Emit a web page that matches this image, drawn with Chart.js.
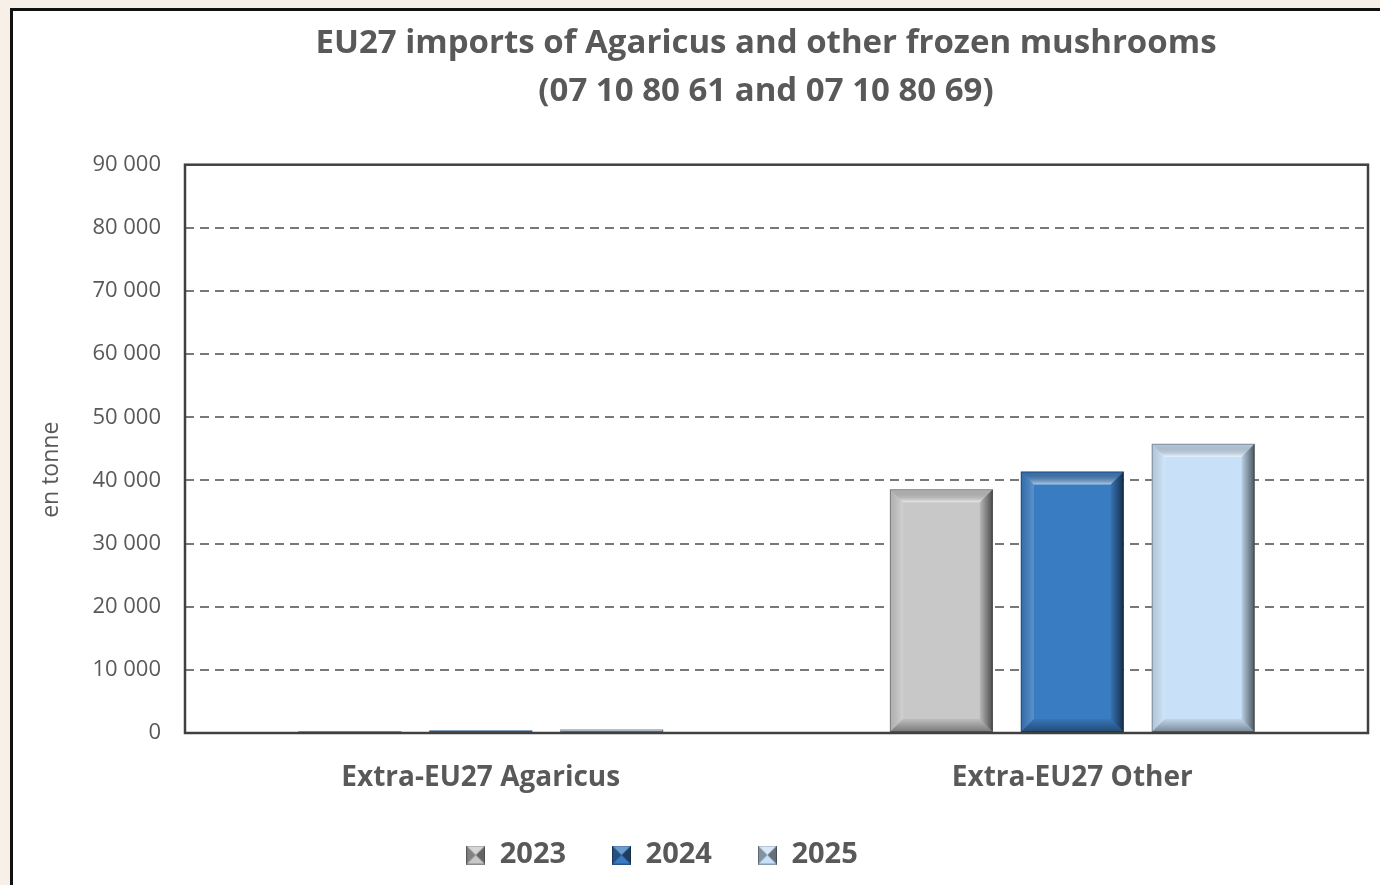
<!DOCTYPE html>
<html>
<head>
<meta charset="utf-8">
<title>EU27 imports of Agaricus and other frozen mushrooms</title>
<script src="https://cdn.jsdelivr.net/npm/chart.js@4.4.1/dist/chart.umd.min.js"></script>
<style>
  html, body { margin: 0; padding: 0; overflow: hidden; }
  body { width: 1380px; height: 885px; background: #f6f0e9; position: relative; }
  #frame { position: absolute; left: 10px; top: 8px; width: 1400px; height: 900px;
           background: #fff; border: 3px solid #111; }
  #income-chart { position: absolute; left: 0; top: 0; }
</style>
</head>
<body>
<div id="frame"></div>
<canvas id="income-chart" width="1380" height="885"></canvas>
<script>
// categories and series
const categories = ['Extra-EU27 Agaricus', 'Extra-EU27 Other'];
const years = ['2023', '2024', '2025'];
const values2023 = [280, 38600];
const values2024 = [380, 41400];
const values2025 = [560, 45800];
const yTicks = [0, 10000, 20000, 30000, 40000, 50000, 60000, 70000, 80000, 90000];

const colors = ['#c8c8c8', '#3a7cc2', '#c9e1f8'];
const grey = '#595959';
const font = '"Open Sans", "DejaVu Sans", sans-serif';

// little bevelled legend icon
function legendIcon(color) {
    const c = document.createElement('canvas');
    c.width = 19; c.height = 19;
    const g = c.getContext('2d');
    g.fillStyle = color;
    g.fillRect(0, 0, 19, 19);
    g.fillStyle = 'rgba(0,0,0,0.35)';
    g.beginPath(); g.moveTo(0, 0); g.lineTo(9.5, 9.5); g.lineTo(0, 19); g.fill();
    g.fillStyle = 'rgba(0,0,0,0.5)';
    g.beginPath(); g.moveTo(19, 0); g.lineTo(9.5, 9.5); g.lineTo(19, 19); g.fill();
    g.fillStyle = 'rgba(255,255,255,0.25)';
    g.beginPath(); g.moveTo(0, 0); g.lineTo(9.5, 9.5); g.lineTo(19, 0); g.fill();
    g.strokeStyle = 'rgba(0,0,0,0.3)';
    g.strokeRect(0.5, 0.5, 18, 18);
    return c;
}

function fmt(v) {
    return String(v).replace(/\B(?=(\d{3})+(?!\d))/g, ' ');
}

// bevel shading on top of each bar
const bevelPlugin = {
    id: 'bevel',
    afterDatasetsDraw(chart) {
        const ctx = chart.ctx;
        chart.data.datasets.forEach((ds, i) => {
            chart.getDatasetMeta(i).data.forEach(bar => {
                const {x, y, base, width} = bar.getProps(['x', 'y', 'base', 'width'], true);
                const l = x - width / 2, r = x + width / 2, h = base - y;
                if (h <= 0) return;
                const b = Math.min(13, h / 2, width / 4);
                ctx.save();
                // top
                let gr = ctx.createLinearGradient(0, y, 0, y + b);
                gr.addColorStop(0, 'rgba(0,0,0,0.08)');
                gr.addColorStop(1, 'rgba(255,255,255,0.6)');
                ctx.fillStyle = gr;
                ctx.beginPath(); ctx.moveTo(l, y); ctx.lineTo(r, y); ctx.lineTo(r - b, y + b); ctx.lineTo(l + b, y + b); ctx.closePath(); ctx.fill();
                // left
                gr = ctx.createLinearGradient(l, 0, l + b, 0);
                gr.addColorStop(0, 'rgba(0,0,0,0.12)');
                gr.addColorStop(1, 'rgba(255,255,255,0.18)');
                ctx.fillStyle = gr;
                ctx.beginPath(); ctx.moveTo(l, y); ctx.lineTo(l + b, y + b); ctx.lineTo(l + b, base - b); ctx.lineTo(l, base); ctx.closePath(); ctx.fill();
                // right
                gr = ctx.createLinearGradient(r - b, 0, r, 0);
                gr.addColorStop(0, 'rgba(0,0,0,0.08)');
                gr.addColorStop(1, 'rgba(0,0,0,0.62)');
                ctx.fillStyle = gr;
                ctx.beginPath(); ctx.moveTo(r, y); ctx.lineTo(r - b, y + b); ctx.lineTo(r - b, base - b); ctx.lineTo(r, base); ctx.closePath(); ctx.fill();
                // bottom
                gr = ctx.createLinearGradient(0, base - b, 0, base);
                gr.addColorStop(0, 'rgba(0,0,0,0.05)');
                gr.addColorStop(1, 'rgba(0,0,0,0.4)');
                ctx.fillStyle = gr;
                ctx.beginPath(); ctx.moveTo(l, base); ctx.lineTo(l + b, base - b); ctx.lineTo(r - b, base - b); ctx.lineTo(r, base); ctx.closePath(); ctx.fill();
                ctx.strokeStyle = 'rgba(0,0,0,0.3)';
                ctx.lineWidth = 1;
                ctx.strokeRect(l + 0.5, y + 0.5, width - 1, h - 1);
                ctx.restore();
            });
        });
    }
};

// full frame round the plot area
const plotFrame = {
    id: 'plotFrame',
    afterDraw(chart) {
        const {left, top, right, bottom} = chart.chartArea;
        const ctx = chart.ctx;
        ctx.save();
        ctx.strokeStyle = '#404040';
        ctx.lineWidth = 2.5;
        ctx.strokeRect(left, top, right - left, bottom - top);
        ctx.restore();
    }
};

// move title and legend where the original puts them
const placeBoxes = {
    id: 'placeBoxes',
    afterLayout(chart) {
        const t = chart.titleBlock;
        let dx = 766 - (t.left + t.right) / 2;
        t.left += dx; t.right += dx;
        const lg = chart.legend;
        dx = 662 - (lg.left + lg.right) / 2;
        lg.left += dx; lg.right += dx;
        const dy = 855 - (lg.top + lg.options.labels.padding + 14.5);
        lg.top += dy; lg.bottom += dy;
    }
};

const userData = {
    labels: categories,
    datasets: [values2023, values2024, values2025].map((vals, i) => ({
        label: years[i],
        data: vals,
        backgroundColor: colors[i],
        borderWidth: 0,
        pointStyle: legendIcon(colors[i]),
        categoryPercentage: 0.664,
        barPercentage: 0.786
    }))
};

let ctx = document.getElementById('income-chart').getContext('2d');
let chart = new Chart(ctx, {
    type: 'bar',
    data: userData,
    plugins: [bevelPlugin, plotFrame, placeBoxes],
    options: {
        responsive: false,
        animation: false,
        layout: { padding: { left: 0, right: 12, top: 0, bottom: 0 } },
        plugins: {
            title: {
                display: true,
                text: ['EU27 imports of Agaricus and other frozen mushrooms', '(07 10 80 61 and 07 10 80 69)'],
                color: grey,
                font: { family: font, size: 33, weight: 'bold', lineHeight: 1.45 },
                padding: { top: 20, bottom: 49 }
            },
            legend: {
                position: 'bottom',
                labels: {
                    usePointStyle: true,
                    boxWidth: 19,
                    color: grey,
                    padding: 46,
                    font: { family: font, size: 29, weight: 'bold' }
                }
            },
            tooltip: { enabled: false }
        },
        scales: {
            x: {
                grid: { display: false, drawTicks: false },
                border: { display: false },
                ticks: {
                    color: grey,
                    padding: 28,
                    autoSkip: false,
                    maxRotation: 0,
                    font: { family: font, size: 28, weight: 'bold' }
                },
                afterFit(scale) { scale.height = 67; }
            },
            y: {
                min: 0,
                max: 90000,
                afterBuildTicks(scale) { scale.ticks = yTicks.map(v => ({ value: v })); },
                grid: {
                    drawTicks: false,
                    color: c => (c.tick && (c.tick.value === 0 || c.tick.value === 90000)) ? 'rgba(0,0,0,0)' : '#787878',
                    lineWidth: 2
                },
                border: { display: false, dash: [9, 6] },
                ticks: {
                    color: grey,
                    padding: 24,
                    font: { family: font, size: 22 },
                    callback: v => fmt(v)
                },
                title: {
                    display: true,
                    text: 'en tonne       ',
                    color: grey,
                    font: { family: font, size: 23 },
                    padding: { top: 38, bottom: 0 }
                },
                afterFit(scale) { scale.width = 185; }
            }
        }
    }
});
</script>
</body>
</html>
